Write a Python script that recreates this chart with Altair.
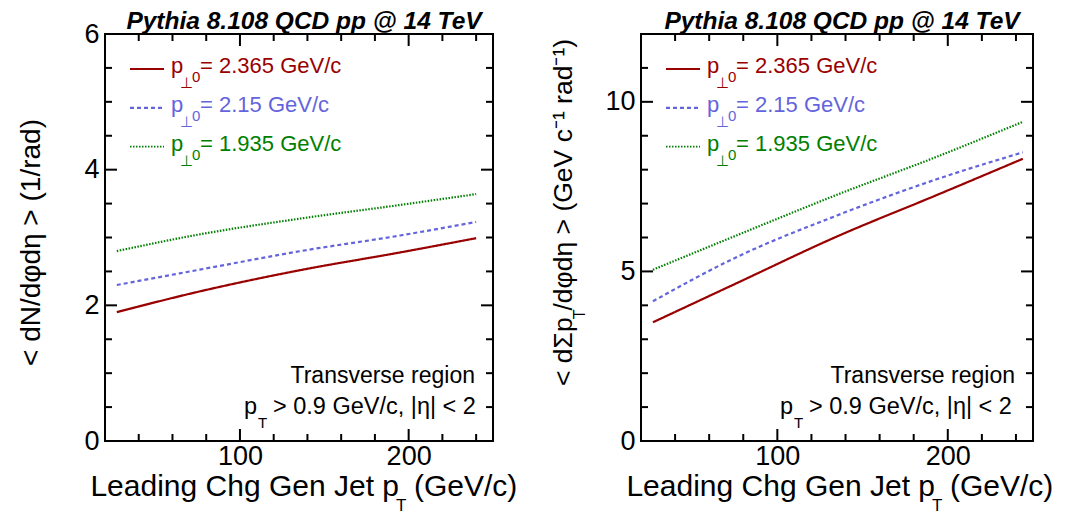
import altair as alt
import pandas as pd

FONT = "Liberation Sans"

# ---------------- data ----------------
X_LEFT = [27, 77, 136, 195, 240]
N_RED = [1.90, 2.21, 2.52, 2.78, 2.99]
N_BLUE = [2.30, 2.53, 2.80, 3.03, 3.23]
N_GREEN = [2.80, 3.05, 3.28, 3.48, 3.64]

X_RIGHT = [27, 76, 135, 193, 244]
PT_RED = [3.50, 4.65, 6.03, 7.24, 8.32]
PT_BLUE = [4.12, 5.42, 6.65, 7.71, 8.51]
PT_GREEN = [5.05, 6.06, 7.26, 8.37, 9.41]

SERIES = ["2.365", "2.15", "1.935"]
COLORS = ["#990000", "#6464dc", "#008000"]
DASHES = [[1, 0], [4, 3], [1.5, 1.5]]
WIDTHS = [2.2, 2.2, 1.6]

X_DOMAIN = [20, 250]
X_MAJOR = [100, 200]
X_MINOR = [40, 60, 80, 120, 140, 160, 180, 220, 240]

LEFT_Y_DOMAIN = [0, 6]
LEFT_Y_MAJOR = [0, 2, 4, 6]
LEFT_Y_MINOR = [0.5, 1, 1.5, 2.5, 3, 3.5, 4.5, 5, 5.5]

RIGHT_Y_DOMAIN = [0, 12]
RIGHT_Y_MAJOR = [0, 5, 10]
RIGHT_Y_MINOR = [1, 2, 3, 4, 6, 7, 8, 9, 11]

TITLE = "Pythia 8.108 QCD pp @ 14 TeV"
XTITLE_A = "Leading Chg Gen Jet p"
XTITLE_SUB = "T"
XTITLE_B = "(GeV/c)"
LEFT_YTITLE = "< dN/dφdη > (1/rad)"
RIGHT_YTITLE_A = "< dΣp"
RIGHT_YTITLE_SUB = "T"
RIGHT_YTITLE_B = "/dφdη > (GeV c⁻¹ rad⁻¹)"
ANNOT1 = "Transverse region"
ANNOT2_SUB = "T"
ANNOT2_B = "> 0.9 GeV/c, |η| < 2"
LEG_TEXT = ["= 2.365 GeV/c", "= 2.15 GeV/c", "= 1.935 GeV/c"]

H = 407
W_LEFT = 388
W_RIGHT = 392
MAJOR_LEN = 12
MINOR_LEN = 7

# approximate Arial advance widths (per 1000 em) for placing sub-scripts
ADV = {" ": 278, "<": 584, ">": 584, "d": 556, "Σ": 618, "p": 556, "T": 611}


def adv(s, size):
    return sum(ADV.get(c, 556) for c in s) * size / 1000.0


DUMMY = alt.Data(values=[{"a": 1}])


def txt(s, x, y, size, color="black", align="left", angle=0, style="normal", weight="normal"):
    return alt.Chart(DUMMY).mark_text(
        text=s, align=align, baseline="alphabetic", fontSize=size, font=FONT,
        color=color, angle=angle, fontStyle=style, fontWeight=weight,
    ).encode(x=alt.value(x), y=alt.value(y))


def seg(x0, y0, x1, y1):
    enc = {"x": alt.value(x0), "y": alt.value(y0)}
    if x1 != x0:
        enc["x2"] = alt.value(x1)
    if y1 != y0:
        enc["y2"] = alt.value(y1)
    return alt.Chart(DUMMY).mark_rule(color="#000000", strokeWidth=2).encode(**enc)


def panel(xs, ys_list, ydom, ymaj, ymin, W, ytitle_layers):
    xscale = alt.Scale(domain=X_DOMAIN, nice=False, zero=False)
    yscale = alt.Scale(domain=ydom, nice=False, zero=False)
    xaxis = alt.Axis(values=X_MAJOR, title=None, ticks=False, domain=False, grid=False,
                     labelFontSize=27, labelFont=FONT, labelColor="black", labelPadding=2,
                     labelFlush=False, labelOverlap=False, format="d")
    yaxis = alt.Axis(values=ymaj, title=None, ticks=False, domain=False, grid=False,
                     labelFontSize=27, labelFont=FONT, labelColor="black", labelPadding=6,
                     labelFlush=False, labelOverlap=False, format="d")

    rows = []
    for s, ys in zip(SERIES, ys_list):
        for x, y in zip(xs, ys):
            rows.append({"x": x, "y": y, "s": s})
    df = pd.DataFrame(rows)

    lines = alt.Chart(df).mark_line(interpolate="monotone").encode(
        x=alt.X("x:Q", scale=xscale, axis=xaxis),
        y=alt.Y("y:Q", scale=yscale, axis=yaxis),
        color=alt.Color("s:N", scale=alt.Scale(domain=SERIES, range=COLORS), legend=None),
        strokeDash=alt.StrokeDash("s:N", scale=alt.Scale(domain=SERIES, range=DASHES), legend=None),
        strokeWidth=alt.StrokeWidth("s:N", scale=alt.Scale(domain=SERIES, range=WIDTHS), legend=None),
    )

    layers = [lines]

    # inward axis ticks on all four sides (linear mapping of the tick values)
    def px(v):
        return (v - X_DOMAIN[0]) / (X_DOMAIN[1] - X_DOMAIN[0]) * W

    def py(v):
        return H - (v - ydom[0]) / (ydom[1] - ydom[0]) * H

    for vals, L in ((X_MAJOR, MAJOR_LEN), (X_MINOR, MINOR_LEN)):
        for v in vals:
            layers.append(seg(px(v), H, px(v), H - L))
            layers.append(seg(px(v), 0, px(v), L))
    for vals, L in ((ymaj, MAJOR_LEN), (ymin, MINOR_LEN)):
        for v in vals:
            layers.append(seg(0, py(v), L, py(v)))
            layers.append(seg(W, py(v), W - L, py(v)))

    # legend
    for i, (c, dash, sw, t) in enumerate(zip(COLORS, DASHES, WIDTHS, LEG_TEXT)):
        ly = 35 + 38.8 * i
        layers.append(alt.Chart(DUMMY).mark_rule(color=c, strokeDash=dash, strokeWidth=sw).encode(
            x=alt.value(25), x2=alt.value(59), y=alt.value(ly)))
        layers.append(txt("p", 66, ly + 4, 22, c))
        layers.append(txt("⊥", 75, ly + 19, 15, c))
        layers.append(txt("0", 87, ly + 13, 15, c))
        layers.append(txt(t, 95, ly + 4, 22, c))

    # title
    layers.append(txt(TITLE, W / 2 + 5, -5, 24.5, align="center", style="italic", weight="bold"))
    # annotation
    layers.append(txt(ANNOT1, W - 18, 349, 23, align="right"))
    layers.append(txt("p", 139, 380, 23.5))
    layers.append(txt(ANNOT2_SUB, 153, 394, 15))
    layers.append(txt(ANNOT2_B, 168, 380, 23.5))
    # x title
    layers.append(txt(XTITLE_A, 294, H + 55, 30, align="right"))
    layers.append(txt(XTITLE_SUB, 291, H + 70, 17))
    layers.append(txt(XTITLE_B, 309, H + 55, 30))
    layers.extend(ytitle_layers)

    return alt.layer(*layers).properties(width=W, height=H)


left_ytitle = [
    txt(LEFT_YTITLE, -65, 332, 28, angle=270),
    alt.Chart(DUMMY).mark_rule(opacity=0).encode(x=alt.value(-96), y=alt.value(-25), y2=alt.value(H)),
]

ry0 = 352
w1 = adv(RIGHT_YTITLE_A, 26.5)
right_ytitle = [
    txt(RIGHT_YTITLE_A, -69, ry0, 26.5, angle=270),
    txt(RIGHT_YTITLE_SUB, -56, ry0 - w1 + 2, 16, angle=270),
    txt(RIGHT_YTITLE_B, -69, ry0 - w1 - adv("T", 16) + 3, 26.5, angle=270),
]

left = panel(X_LEFT, [N_RED, N_BLUE, N_GREEN], LEFT_Y_DOMAIN, LEFT_Y_MAJOR, LEFT_Y_MINOR,
             W_LEFT, left_ytitle)
right = panel(X_RIGHT, [PT_RED, PT_BLUE, PT_GREEN], RIGHT_Y_DOMAIN, RIGHT_Y_MAJOR, RIGHT_Y_MINOR,
              W_RIGHT, right_ytitle)

chart = alt.hconcat(left, right, spacing=148, bounds="flush").properties(
    padding=0, background="white"
).configure_view(stroke="black", strokeWidth=2)

chart.save("out.html", embed_options={"renderer": "svg", "actions": False})
